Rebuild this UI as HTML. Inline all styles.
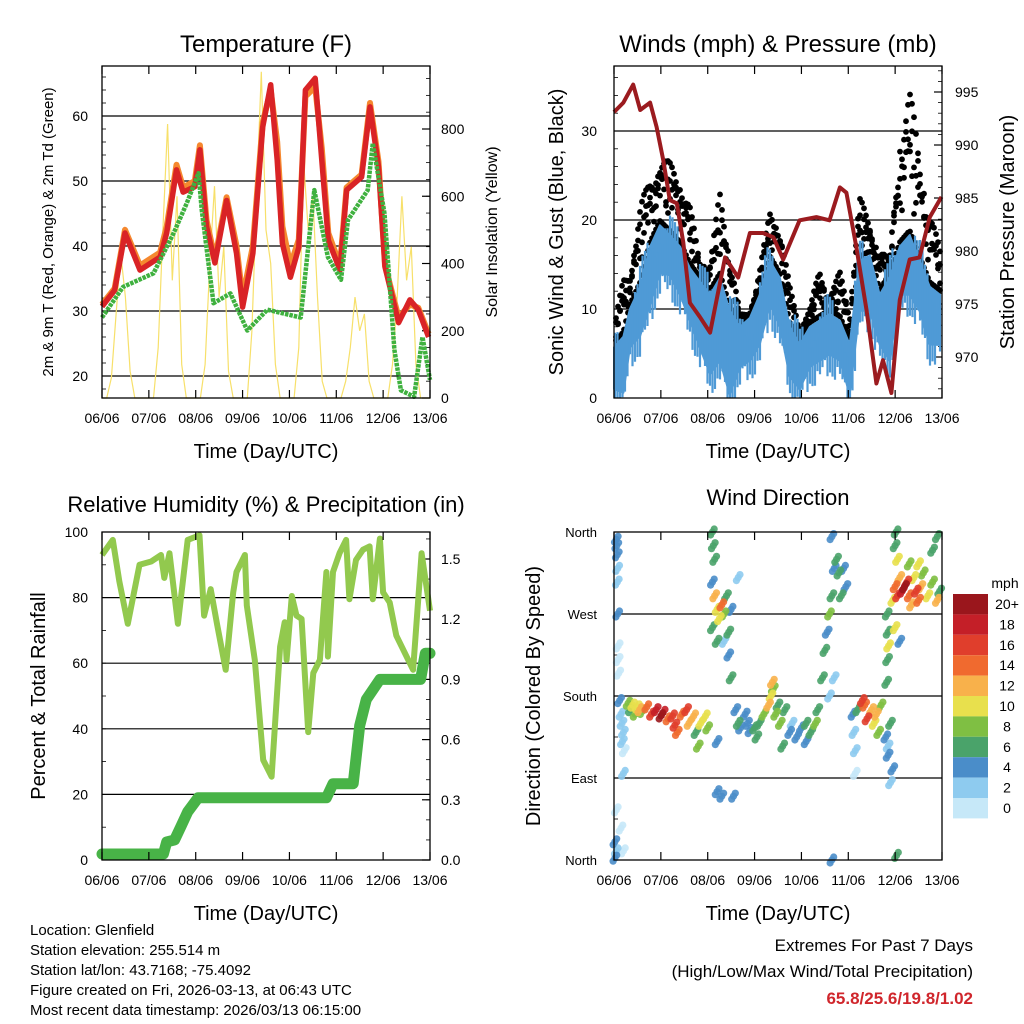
<!DOCTYPE html>
<html><head><meta charset="utf-8">
<style>
html,body{margin:0;padding:0;background:#fff;}
svg{display:block;font-family:"Liberation Sans",Arial,sans-serif;}
</style></head>
<body>
<svg id="chart" width="1024" height="1024" viewBox="0 0 1024 1024"></svg>
<script>
// ---------- DATA ----------
const dayLabels = ["06/06","07/06","08/06","09/06","10/06","11/06","12/06","13/06"];

// Temperature panel
const tempT   = [0,0.27,0.49,0.81,1.24,1.38,1.59,1.73,1.98,2.09,2.23,2.41,2.66,2.87,3.0,3.22,3.43,3.6,3.74,3.85,4.02,4.2,4.34,4.55,4.69,4.83,5.08,5.22,5.54,5.72,5.9,6.04,6.33,6.57,6.75,6.97];
const tempRed = [30.7,33.2,42,36.3,38.3,42,51.7,48.3,49.1,54.8,43,37.4,47,38.9,30.6,38.9,58.3,64.8,53.2,40.4,35.2,39.8,64,65.8,53.2,40.9,36.3,48.6,50.6,61.4,52.2,36.8,28.2,31.7,30.2,26];
const tempOrange = [31,33.5,42.5,37,39,43,52.5,49,50,55.5,44,38,47.5,40,32,40,59,64,56,43,37,41,63,64.5,55,42,37,49,51,62,53,37,29,31,30.5,26.5];
const tdT     = [0,0.45,1.1,1.53,1.81,2.06,2.13,2.38,2.74,3.1,3.53,4.24,4.53,4.82,5.1,5.25,5.67,5.78,6.03,6.24,6.38,6.66,6.84,7.0];
const tdGreen = [29,33.7,35.8,42,46.6,51.2,45.5,31.2,32.7,27,30.2,29,48.6,38.3,34.8,44,48.6,55.8,45,24,17.8,16.8,26,19.4];
const solarT  = [0,0.1,0.2,0.3,0.4,0.5,0.6,0.7,0.8,0.9,1,1.1,1.2,1.3,1.4,1.5,1.6,1.7,1.8,1.9,2,2.1,2.2,2.3,2.4,2.5,2.6,2.7,2.8,2.9,3,3.1,3.2,3.3,3.4,3.5,3.6,3.7,3.8,3.9,4,4.1,4.2,4.3,4.4,4.5,4.6,4.7,4.8,4.9,5,5.1,5.2,5.3,5.4,5.5,5.6,5.7,5.8,5.9,6,6.1,6.2,6.3,6.4,6.5,6.6,6.7,6.8,6.9,7];
const solar   = [0,0,60,250,430,300,80,0,0,0, 0,0,150,500,815,350,600,100,0,0, 0,0,100,400,630,300,450,80,0,0, 0,0,200,600,970,500,400,100,0,0, 0,0,150,710,500,600,300,50,0,0, 0,0,50,150,300,200,250,50,0,0, 0,0,100,300,600,350,450,100,0,0, 0];

// Wind panel
const windT   = [0,0.2,0.34,0.56,0.77,0.98,1.19,1.41,1.62,1.83,2.05,2.26,2.47,2.69,2.9,3.11,3.33,3.54,3.75,3.96,4.18,4.39,4.6,4.82,5.03,5.24,5.46,5.67,5.88,6.1,6.31,6.52,6.74,6.96];
const speedHi = [5.7,6.9,10,12.5,17,19.4,18.3,17,14.6,13.1,11.6,13.5,9.8,8,9,11.6,15.4,13.5,8,6,8,8.7,9.4,8.7,6,15.4,16,11.6,13.5,17,18.3,15.4,12.5,11.6];
const speedLo = [1,0.6,5.7,7,10.5,14,13.8,11.6,8.7,5.7,2.7,4.2,0.4,3.5,4.2,6,10.5,8,2.4,1,3.5,4.2,4.9,4.2,0.4,9.8,9.8,6,4.2,11.6,11.6,9.8,6,6];
const gust    = [8,13.5,14.6,21.7,24.7,27.3,26.5,25.4,21.7,15.4,15.4,23.2,17,9.4,9.4,14.6,21,19.9,12.5,8,10.1,14.6,11.6,14.2,10.1,22.8,19.4,17,15.4,30.3,34.5,28.4,21,16.7];
const presT   = [0,0.2,0.41,0.56,0.77,0.91,1.05,1.19,1.34,1.48,1.62,1.83,2.05,2.19,2.37,2.65,2.9,3.18,3.4,3.61,3.96,4.32,4.6,4.82,4.96,5.17,5.39,5.6,5.74,5.92,6.1,6.31,6.52,6.74,6.99];
const pressure= [993.1,994,995.7,993.3,994,991.7,988.6,984.8,984.5,980.8,975.1,973.8,972.3,975.4,979.4,977.5,981.7,981.7,981.3,979.2,982.9,983.2,982.9,986,985.5,980.4,974.4,967.5,969.7,966.6,975.4,979.2,979.4,983.2,985.1];

// RH / precipitation
const rhT   = [0,0.23,0.37,0.55,0.8,1.05,1.26,1.33,1.44,1.62,1.83,2.08,2.18,2.32,2.46,2.64,2.8,2.87,3.05,3.09,3.26,3.44,3.62,3.8,3.9,3.94,4.05,4.15,4.26,4.4,4.51,4.65,4.79,4.82,4.93,5.07,5.21,5.28,5.42,5.57,5.71,5.78,5.93,6.0,6.14,6.28,6.64,6.82,7.0];
const rh    = [93,97.6,85,72,90,91,93,86,93.5,72,97.6,99,74.5,82.6,71.5,58,81.6,87.8,93,77.6,61,30.5,25.4,65,72.5,61,80.5,74.5,73.5,39,57,61,87.8,62,87.8,93.6,97.6,79.5,91.5,94.6,95.6,79.5,98,81.6,78.5,68.4,58,93.5,76];
const prT   = [0,1.31,1.38,1.55,1.69,1.83,2.05,4.79,4.93,5.36,5.5,5.64,5.93,6.8,6.9,7.0];
const precip= [0.03,0.03,0.09,0.1,0.17,0.24,0.31,0.31,0.38,0.38,0.67,0.8,0.9,0.9,1.03,1.03];

// Wind direction
const dirT = [0.05,0.06,0.07,0.08,0.07,0.08,0.09,0.09,0.1,0.12,0.15,0.17,0.2,0.18,0.22,0.2,0.05,0.15,0.02,0.05,0.02,0.2,
0.3,0.35,0.4,0.45,0.5,0.55,0.6,0.7,0.8,0.9,1.0,1.05,1.15,1.25,1.3,1.35,1.45,1.55,1.6,1.7,1.75,1.8,1.85,1.95,2.0,
2.1,2.12,2.15,2.1,2.15,2.2,2.25,2.1,2.3,2.35,2.4,2.45,2.5,2.35,2.45,2.5,2.2,2.2,2.2,2.3,2.55,2.65,
2.6,2.65,2.7,2.8,2.85,2.9,3.0,3.05,3.1,3.2,
3.3,3.35,3.38,3.4,3.45,3.5,3.55,3.6,3.65,
3.75,3.8,3.9,4.0,4.1,4.2,4.3,4.35,4.1,
4.45,4.5,4.55,4.6,4.65,4.7,4.75,4.8,4.9,4.95,4.85,4.6,4.7,4.65,4.65,
5.1,5.12,5.15,5.15,5.2,5.3,5.35,5.4,5.5,5.55,5.6,5.65,5.7,5.8,5.85,5.9,5.85,5.95,5.9,
5.82,5.84,5.85,5.83,5.86,
5.95,6.0,6.05,6.1,6.15,6.2,6.25,6.3,6.35,6.4,6.45,6.5,6.55,6.6,6.7,6.8,6.9,6.95,6.0,6.02,6.05,6.3,6.5,6.8,6.9,6.0,6.1,6.03];
const dirDeg = [352,345,335,320,305,270,235,220,205,175,160,150,140,130,120,95,55,35,20,10,2,10,
172,165,170,160,168,165,163,168,160,165,158,162,155,158,148,140,160,165,150,158,140,125,150,158,145,
360,345,330,305,290,275,265,255,280,270,290,250,275,240,225,200,240,130,75,70,70,310,
165,150,145,160,150,142,145,135,150,160,
170,180,195,188,160,170,150,125,165,
140,150,135,145,150,140,150,165,130,
200,230,250,270,290,320,330,315,320,300,290,180,200,0,355,
160,140,120,95,165,175,170,155,165,150,160,140,170,135,125,150,115,100,85,
195,220,250,270,235,
285,300,290,310,295,300,305,290,280,310,295,285,300,315,290,305,285,295,345,360,330,325,325,340,355,255,240,5];
const dirSpd = [4,5,4,3,2,4,1,1,0,4,3,3,2,3,1,2,1,0,4,3,4,0,
8,7,10,9,11,12,8,14,16,19,20,18,15,16,16,15,14,16,12,12,6,8,10,10,9,
6,7,7,4,12,11,10,7,15,8,6,6,4,3,4,6,7,4,4,4,4,3,
4,6,5,4,4,5,6,6,7,8,
12,10,12,9,8,6,8,7,6,
4,3,4,4,6,7,8,7,4,
6,7,5,9,6,4,7,6,5,4,7,2,2,4,4,
4,2,2,1,7,16,14,16,12,10,12,8,8,4,3,6,4,4,3,
6,6,6,7,10,
10,14,16,12,18,20,16,14,12,10,16,14,12,8,10,8,12,6,6,6,10,8,10,7,6,10,4,7];
const speedBins = ["0","2","4","6","8","10","12","14","16","18","20+"];
const binColors = ["#c6e8f8","#8ecbef","#4a8dc9","#4aa36a","#7fbf43","#e8e04d","#f8b14b","#f06a2f","#e03e2c","#c41f28","#9a161c"];

// ---------- HELPERS ----------
const NS = "http://www.w3.org/2000/svg";
const svg = document.getElementById("chart");
function el(tag, attrs, parent, txt){
  const e = document.createElementNS(NS, tag);
  for (const k in attrs) e.setAttribute(k, attrs[k]);
  if (txt !== undefined) e.textContent = txt;
  (parent || svg).appendChild(e);
  return e;
}
function grp(name){
  const g = el("g", {});
  
  
  return g;
}
function txt(parent, name, x, y, s, size, anchor, extra){
  const a = Object.assign({x:x, y:y, "font-size":size, "text-anchor":anchor||"middle", fill:"#000"}, extra||{});
  const t = el("text", a, parent, s);
  
  
  return t;
}
function linScale(d0,d1,r0,r1){ return v => r0 + (v-d0)/(d1-d0)*(r1-r0); }
function pathFrom(xs, ys, fx, fy){
  let d = "";
  for (let i=0;i<xs.length;i++) d += (i?"L":"M") + fx(xs[i]).toFixed(1) + "," + fy(ys[i]).toFixed(1);
  return d;
}
function interp(ts, vs, t){
  if (t<=ts[0]) return vs[0];
  for (let i=1;i<ts.length;i++){ if (t<=ts[i]) { const f=(t-ts[i-1])/(ts[i]-ts[i-1]); return vs[i-1]+f*(vs[i]-vs[i-1]); } }
  return vs[vs.length-1];
}

function panelFrame(g, L, T, R, B, name){
  const f = el("rect", {x:L, y:T, width:R-L, height:B-T, fill:"none", stroke:"#000", "stroke-width":1.3}, g);
  
  
}
function xAxisDays(g, L, R, T, B, prefix){
  const fx = linScale(0,7,L,R);
  for (let i=0;i<=7;i++){
    const x = fx(i);
    el("line",{x1:x,y1:T,x2:x,y2:T+8,stroke:"#000","stroke-width":1.2},g);
    el("line",{x1:x,y1:B,x2:x,y2:B-8,stroke:"#000","stroke-width":1.2},g);
    txt(g, prefix+'-x-tick-label', x, B+25, dayLabels[i], 14);
  }
  txt(g, prefix+'-x-axis-title', (L+R)/2, B+60, "Time (Day/UTC)", 20);
  return fx;
}
function hGrid(g, L, R, ys){
  ys.forEach(y => el("line",{x1:L,y1:y,x2:R,y2:y,stroke:"#000","stroke-width":1.2},g));
}
function yTicks(g, x, ys, dir, len, w){
  ys.forEach(y => el("line",{x1:x,y1:y,x2:x+dir*len,y2:y,stroke:"#000","stroke-width":w||1},g));
}

// ---------- PANEL 1: TEMPERATURE ----------
(function(){
  const L=102,R=430,T=66,B=398;
  const g = grp('temperature-panel');
  const fx = linScale(0,7,L,R);
  const fy = linScale(20,60,376,116);
  const fs = linScale(0,800,398,129);
  txt(g,'temperature-title',266,52,"Temperature (F)",24);
  const ticks=[20,30,40,50,60];
  hGrid(g,L,R,ticks.map(fy));
  const minors=[]; for(let v=18;v<=66;v+=2){ if(fy(v)>=T&&fy(v)<=B) minors.push(fy(v)); }
  yTicks(g,L,minors,1,4,0.8);
  ticks.forEach(v=>txt(g,'temp-y-tick-label',88,fy(v)+5,String(v),14,"end"));
  const sTicks=[0,200,400,600,800];
  yTicks(g,R,sTicks.map(fs),-1,8,1.2);
  const sMin=[]; for(let v=0;v<=950;v+=50){ sMin.push(fs(v)); } yTicks(g,R,sMin,-1,4,0.8);
  sTicks.forEach(v=>txt(g,'solar-y-tick-label',441,fs(v)+5,String(v),14,"start"));
  txt(g,'temp-y-axis-title',0,0,"2m & 9m T (Red, Orange) & 2m Td (Green)",15,"middle",{transform:"translate(53,232) rotate(-90)"});
  txt(g,'solar-y-axis-title',0,0,"Solar Insolation (Yellow)",16,"middle",{transform:"translate(497,232) rotate(-90)"});
  const s = el("path",{d:pathFrom(solarT,solar,fx,fs),fill:"none",stroke:"#f7e06a","stroke-width":1.2},g);
   
  const o = el("path",{d:pathFrom(tempT,tempOrange,fx,fy),fill:"none",stroke:"#f5882f","stroke-width":6,"stroke-linejoin":"round"},g);
   
  const r = el("path",{d:pathFrom(tempT,tempRed,fx,fy),fill:"none",stroke:"#d92326","stroke-width":5.5,"stroke-linejoin":"round"},g);
   
  const gr = el("path",{d:pathFrom(tdT,tdGreen,fx,fy),fill:"none",stroke:"#3fb13f","stroke-width":4.5,"stroke-dasharray":"3.5 1","stroke-linejoin":"round"},g);
   
  panelFrame(g,L,T,R,B,'temperature');
  xAxisDays(g,L,R,T,B,'temperature');
})();

// ---------- PANEL 2: WINDS & PRESSURE ----------
(function(){
  const L=614,R=942,T=66,B=398;
  const g = grp('winds-panel');
  const fx = linScale(0,7,L,R);
  const fy = linScale(0,30,398,131);
  const fp = linScale(970,995,357,92);
  txt(g,'winds-title',778,52,"Winds (mph) & Pressure (mb)",24);
  [0,10,20,30].forEach(v=>txt(g,'wind-y-tick-label',597,fy(v)+5,String(v),14,"end"));
  hGrid(g,L,R,[10,20,30].map(fy));
  const mn=[]; for(let v=0;v<=36;v+=2) mn.push(fy(v)); yTicks(g,L,mn,1,4,0.8);
  const pT=[970,975,980,985,990,995];
  yTicks(g,R,pT.map(fp),-1,8,1.2);
  const pm=[]; for(let v=967;v<=997;v++) pm.push(fp(v)); yTicks(g,R,pm,-1,4,0.8);
  pT.forEach(v=>txt(g,'pressure-y-tick-label',955,fp(v)+5,String(v),14,"start"));
  txt(g,'wind-y-axis-title',0,0,"Sonic Wind & Gust (Blue, Black)",20,"middle",{transform:"translate(563,232) rotate(-90)"});
  txt(g,'pressure-y-axis-title',0,0,"Station Pressure (Maroon)",20,"middle",{transform:"translate(1014,232) rotate(-90)"});
  const gd = grp('gust-points'); g.appendChild(gd);
  for(let x=L+2;x<=R-1;x+=2){
    const t=(x-L)/(R-L)*7;
    const hi=interp(windT,speedHi,t), gu=interp(windT,gust,t);
    const k=Math.round(x);
    const j1=Math.abs(Math.sin(k*1.7)), j2=Math.abs(Math.sin(k*2.9+1)), j3=Math.abs(Math.sin(k*0.53+2));
    const top=hi+(gu-hi)*(0.55+0.45*j1);
    const mid=hi+(gu-hi)*(0.2+0.5*j2);
    const mid2=hi+(gu-hi)*(0.4+0.4*j3);
    [top,mid,mid2,hi+0.5].forEach(v=>{
      const c = el("circle",{cx:x.toFixed(1),cy:fy(v).toFixed(1),r:2.9,fill:"#000"},gd);
       
    });
  }
  let d="";
  for(let i=0;i<windT.length;i++) d+=(i?"L":"M")+fx(windT[i]).toFixed(1)+","+fy(speedHi[i]).toFixed(1);
  for(let i=windT.length-1;i>=0;i--) d+="L"+fx(windT[i]).toFixed(1)+","+fy(speedLo[i]).toFixed(1);
  const band = el("path",{d:d+"Z",fill:"#4f9ad6",stroke:"#4f9ad6","stroke-width":2,"stroke-linejoin":"round"},g);
   
  let sp="";
  for(let x=L+1;x<=R-1;x+=2.5){
    const t=(x-L)/(R-L)*7;
    const hi=interp(windT,speedHi,t), lo=interp(windT,speedLo,t);
    const k=Math.round(x*3);
    const up=hi+2.5*Math.sin(k*0.77), dn=lo-2.5*Math.abs(Math.sin(k*1.31));
    sp+="M"+x.toFixed(1)+","+fy(Math.max(0,dn)).toFixed(1)+"L"+x.toFixed(1)+","+fy(up).toFixed(1);
  }
  const spk = el("path",{d:sp,stroke:"#4f9ad6","stroke-width":2.2,fill:"none"},g);
   
  const p = el("path",{d:pathFrom(presT,pressure,fx,fp),fill:"none",stroke:"#9b1b1f","stroke-width":4,"stroke-linejoin":"round"},g);
   
  panelFrame(g,L,T,R,B,'winds');
  xAxisDays(g,L,R,T,B,'winds');
})();

// ---------- PANEL 3: RH & PRECIP ----------
(function(){
  const L=102,R=430,T=532,B=860;
  const g = grp('humidity-panel');
  const fx = linScale(0,7,L,R);
  const fy = linScale(0,100,860,532);
  const fr = linScale(0,1.5,860,559);
  txt(g,'humidity-title',266,512,"Relative Humidity (%) & Precipitation (in)",22);
  const ticks=[0,20,40,60,80,100];
  hGrid(g,L,R,[20,40,60,80].map(fy));
  ticks.forEach(v=>txt(g,'rh-y-tick-label',88,fy(v)+5,String(v),14,"end"));
  const mn=[]; for(let v=0;v<=100;v+=10) mn.push(fy(v)); yTicks(g,L,mn,1,4,0.8);
  const rT=[0,0.3,0.6,0.9,1.2,1.5];
  yTicks(g,R,rT.map(fr),-1,8,1.2);
  const rm=[]; for(let v=0;v<=1.62;v+=0.1) rm.push(fr(v)); yTicks(g,R,rm,-1,4,0.8);
  rT.forEach(v=>txt(g,'precip-y-tick-label',441,fr(v)+5,v.toFixed(1),14,"start"));
  txt(g,'rh-y-axis-title',0,0,"Percent & Total Rainfall",20,"middle",{transform:"translate(45,696) rotate(-90)"});
  const rl = el("path",{d:pathFrom(rhT,rh,fx,fy),fill:"none",stroke:"#92c94e","stroke-width":6,"stroke-linejoin":"round"},g);
   
  const pl = el("path",{d:pathFrom(prT,precip,fx,fr),fill:"none",stroke:"#48b347","stroke-width":11,"stroke-linejoin":"round","stroke-linecap":"round"},g);
   
  panelFrame(g,L,T,R,B,'humidity');
  xAxisDays(g,L,R,T,B,'humidity');
})();

// ---------- PANEL 4: WIND DIRECTION ----------
(function(){
  const L=614,R=942,T=532,B=860;
  const g = grp('wind-direction-panel');
  const fx = linScale(0,7,L,R);
  const fy = linScale(0,360,860,532);
  txt(g,'wind-direction-title',778,505,"Wind Direction",22);
  hGrid(g,L,R,[90,180,270].map(fy));
  const names=["North","East","South","West","North"];
  [0,90,180,270,360].forEach((v,i)=>txt(g,'direction-tick-label',597,fy(v)+5,names[i],13,"end"));
  yTicks(g,L,[45,135,225,315].map(fy),1,4,0.8);
  txt(g,'direction-y-axis-title',0,0,"Direction (Colored By Speed)",20,"middle",{transform:"translate(540,696) rotate(-90)"});
  const order = dirT.map((_,i)=>i).sort((a,b)=>dirSpd[a]-dirSpd[b]);
  const offs=[[0,0],[1.8,-3],[-1.8,3]];
  order.forEach(i=>{
    const bi = Math.min(10, Math.floor(dirSpd[i]/2+0.0001));
    const cx=fx(dirT[i]), cy=fy(dirDeg[i]);
    offs.forEach(o=>{
      const c = el("circle",{cx:(cx+o[0]).toFixed(1),cy:(cy+o[1]).toFixed(1),r:3.6,fill:binColors[bi],"fill-opacity":0.9},g);
       
    });
  });
  panelFrame(g,L,T,R,B,'wind-direction');
  xAxisDays(g,L,R,T,B,'wind-direction');
  const cb = grp('speed-colorbar');
  txt(cb,'colorbar-title',1005,588,"mph",14);
  for(let k=10;k>=0;k--){
    const y = 594 + (10-k)*20.4;
    const rct = el("rect",{x:953,y:y.toFixed(1),width:35,height:20.4,fill:binColors[k]},cb);
     
    txt(cb,'colorbar-label',1007,y+15,speedBins[k],14);
  }
})();

// ---------- FOOTER ----------
(function(){
  const g = grp('footer-info');
  const lines=["Location: Glenfield","Station elevation: 255.514 m","Station lat/lon: 43.7168; -75.4092","Figure created on Fri, 2026-03-13, at 06:43 UTC","Most recent data timestamp: 2026/03/13 06:15:00"];
  lines.forEach((s,i)=>txt(g,'station-info-line',30,935+i*20,s,15,"start"));
  const e = grp('extremes-summary');
  txt(e,'extremes-title',973,951,"Extremes For Past 7 Days",17,"end");
  txt(e,'extremes-subtitle',973,977,"(High/Low/Max Wind/Total Precipitation)",17,"end");
  txt(e,'extremes-values',973,1004,"65.8/25.6/19.8/1.02",17,"end",{fill:"#d0262c","font-weight":"bold"});
})();
</script>
</body></html>
